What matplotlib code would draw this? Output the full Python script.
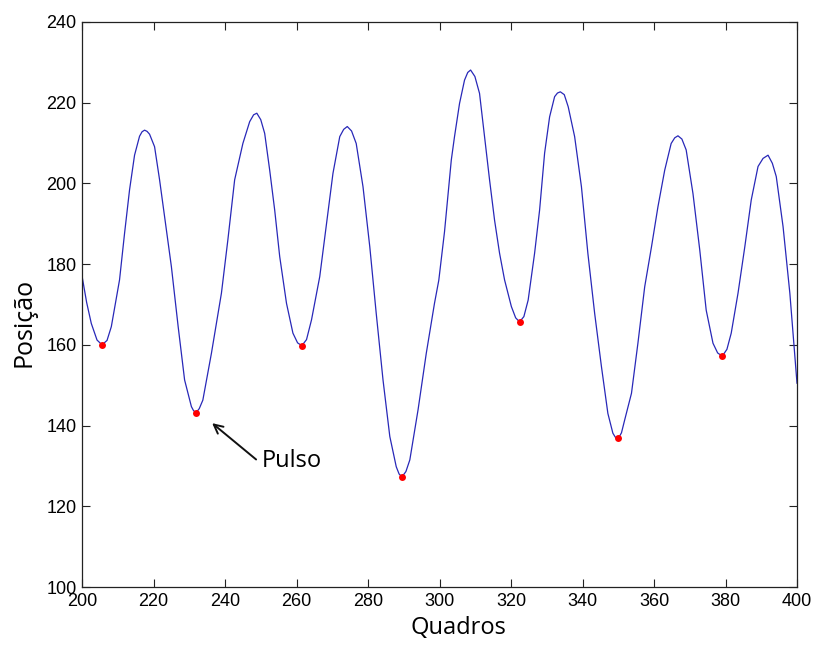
import matplotlib
matplotlib.use('Agg')
import matplotlib.pyplot as plt

# Curve (frame, position)
frames = [200.0, 201.3, 202.6, 204.2, 205.6, 207.0, 208.2, 210.5, 211.9, 213.3,
          214.7, 216.1, 216.8, 217.5, 218.2, 218.9, 220.3, 221.7, 223.6, 225.0,
          226.9, 228.7, 230.6, 231.2, 231.9, 232.8, 233.8, 236.2, 239.0, 240.8,
          242.7, 245.0, 246.9, 248.0, 248.9, 250.0, 251.1, 252.5, 253.9, 255.3,
          257.2, 259.0, 260.3, 261.5, 262.8, 264.2, 266.5, 268.3, 270.2, 272.1,
          273.2, 274.2, 275.4, 276.7, 278.6, 280.5, 282.3, 284.2, 286.1, 287.9,
          288.7, 289.5, 290.6, 291.7, 294.0, 296.3, 298.6, 299.8, 301.4, 303.3,
          304.2, 305.6, 307.0, 307.9, 308.7, 309.9, 311.2, 312.6, 314.0, 315.4,
          316.8, 318.2, 320.1, 321.3, 322.4, 323.6, 324.8, 326.6, 328.0, 329.4,
          330.8, 332.2, 333.0, 333.8, 334.9, 336.0, 337.8, 339.7, 341.5, 343.4,
          345.3, 347.1, 348.5, 349.2, 350.0, 350.9, 351.8, 353.7, 355.5, 357.4,
          359.3, 361.1, 363.0, 364.8, 365.8, 366.7, 367.8, 369.0, 370.9, 372.8,
          374.6, 376.5, 377.8, 379.1, 380.4, 381.6, 383.5, 385.4, 387.2, 389.1,
          390.5, 391.9, 393.1, 394.2, 396.1, 398.0, 400.0]
position = [177.1, 170.5, 165.3, 161.2, 160.0, 161.1, 164.5, 176.1, 187.6, 198.4,
            207.0, 211.7, 212.8, 213.2, 212.9, 212.2, 209.1, 200.9, 188.5, 179.4,
            164.5, 151.3, 144.7, 143.7, 143.2, 144.2, 146.3, 157.9, 172.8, 186.0,
            200.9, 209.9, 215.3, 217.0, 217.4, 215.8, 212.4, 203.3, 193.4, 181.9,
            170.3, 162.9, 160.5, 159.8, 161.3, 166.2, 176.9, 189.3, 202.5, 211.6,
            213.4, 214.1, 213.0, 209.9, 199.2, 184.3, 167.8, 151.3, 137.3, 129.8,
            128.0, 127.3, 128.6, 131.5, 143.9, 157.9, 170.3, 176.0, 188.0, 205.8,
            211.6, 219.8, 225.6, 227.5, 228.1, 226.5, 222.3, 211.6, 200.9, 190.9,
            182.7, 176.1, 169.5, 166.7, 165.7, 167.0, 171.1, 182.7, 193.4, 207.5,
            216.5, 221.5, 222.4, 222.7, 222.0, 219.0, 211.6, 199.2, 182.7, 167.8,
            154.6, 143.0, 138.1, 137.1, 136.8, 138.2, 141.4, 148.0, 160.4, 174.4,
            184.3, 194.2, 203.3, 209.9, 211.3, 211.8, 211.0, 208.3, 197.5, 183.5,
            168.6, 160.4, 158.0, 157.2, 158.9, 162.9, 172.8, 184.3, 195.9, 204.2,
            206.2, 207.0, 205.0, 201.7, 189.3, 172.8, 150.5]

# Detected pulses (minima)
pulse_frames = [205.6, 231.9, 261.5, 289.5, 322.4, 350.0, 379.1]
pulse_values = [160.0, 143.2, 159.8, 127.3, 165.7, 136.8, 157.2]

xticks = list(range(200, 401, 20))
yticks = list(range(100, 241, 20))

label_font = ['Open Sans', 'DejaVu Sans']
tick_font = ['Liberation Sans', 'DejaVu Sans']

fig = plt.figure(figsize=(8.13, 6.45), dpi=100)
ax = fig.add_axes([82/813, 58/645, 715/813, 565/645])

ax.plot(frames, position, color='#2828b8', lw=0.9)
ax.plot(pulse_frames, pulse_values, 'o', color='#ff0000', ms=5, mec='none')

# arrow pointing at the second pulse
ax.annotate('', xy=(236.4, 140.6), xytext=(248.7, 131.6),
            arrowprops=dict(arrowstyle='->', lw=1.4, color='#111111',
                            mutation_scale=16, shrinkA=0, shrinkB=0))
ax.text(250.4, 131.2, 'Pulso', va='center', ha='left', fontsize=17,
        family=label_font)

ax.set_xlim(200, 400)
ax.set_ylim(100, 240)
ax.set_xticks(xticks)
ax.set_yticks(yticks)
for lab in ax.get_xticklabels() + ax.get_yticklabels():
    lab.set_family(tick_font)
    lab.set_fontsize(13)
ax.tick_params(direction='in', length=6, width=0.8, top=True, right=True,
               color='#222222', pad=4)
for s in ax.spines.values():
    s.set_color('#222222')
    s.set_linewidth(0.9)

ax.set_xlabel('Quadros', fontsize=17, family=label_font)
ax.set_ylabel('Posição', fontsize=18, family=label_font)
ax.xaxis.set_label_coords(0.526, -0.052)
ax.yaxis.set_label_coords(-0.064, 0.468)

fig.savefig('out.png', dpi=100)
